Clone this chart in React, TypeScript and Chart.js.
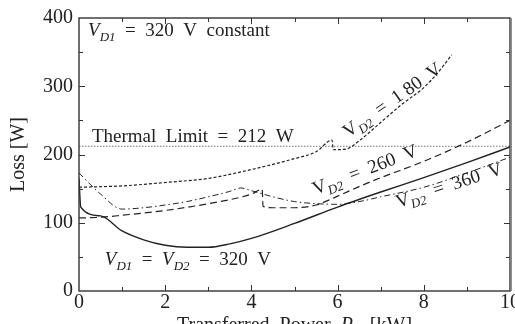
import { useEffect, useRef } from "react";
import { Chart, registerables } from "chart.js";

Chart.register(...registerables);

// ---- data (Transferred power [kW] vs Loss [W]) ----
const power320 = [0, 0.04, 0.5, 1.0, 1.5, 2.0, 2.5, 3.0, 3.5, 4.0, 5.0, 6.0, 7.0, 8.0, 9.0, 10];
const loss320 = [165, 123, 110, 88, 75, 67, 64, 64, 69, 77, 99, 123, 145, 166, 188, 211];

const power360 = [0, 0.5, 1.0, 1.5, 2.0, 2.5, 3.0, 3.5, 3.75, 4.0, 4.5, 5.0, 5.5, 6.0, 6.5, 7.0, 8.0, 9.0, 10];
const loss360 = [173, 142, 120, 122, 126, 131, 138, 146, 151, 147, 138, 131, 128, 127, 131, 138, 152, 173, 196];

const power260 = [0, 0.5, 1.0, 2.0, 3.0, 4.0, 4.25, 4.27, 4.5, 5.0, 5.5, 6.0, 6.5, 7.0, 8.0, 9.0, 10];
const loss260 = [107, 108, 111, 118, 128, 142, 149, 124, 122, 122, 126, 139, 153, 166, 190, 218, 250];

const power180 = [0, 1.0, 2.0, 3.0, 4.0, 5.0, 5.5, 5.87, 5.9, 6.2, 6.5, 7.0, 7.5, 8.0, 8.3, 8.65];
const loss180 = [152, 154, 159, 165, 178, 194, 204, 221, 207, 208, 220, 247, 274, 298, 318, 346];

const thermalLimit = 212;
const xRange = [0, 10];
const yRange = [0, 400];

const FONT = "'Liberation Serif', 'DejaVu Serif', serif";
const INK = "#222";

type Part = { t: string; it?: boolean; sub?: boolean };

function partFont(p: Part, size: number) {
  const s = p.sub ? Math.round(size * 0.7) : size;
  return `${p.it ? "italic " : ""}${s}px ${FONT}`;
}

function richWidth(ctx: CanvasRenderingContext2D, parts: Part[], size: number) {
  ctx.save();
  let w = 0;
  for (const p of parts) {
    ctx.font = partFont(p, size);
    w += ctx.measureText(p.t).width;
  }
  ctx.restore();
  return w;
}

function drawRich(ctx: CanvasRenderingContext2D, parts: Part[], x: number, y: number, angle: number, size: number) {
  ctx.save();
  ctx.translate(x, y);
  ctx.rotate((angle * Math.PI) / 180);
  ctx.fillStyle = INK;
  ctx.textBaseline = "alphabetic";
  let cx = 0;
  for (const p of parts) {
    ctx.font = partFont(p, size);
    ctx.fillText(p.t, cx, p.sub ? size * 0.25 : 0);
    cx += ctx.measureText(p.t).width;
  }
  ctx.restore();
}

const zip = (xs: number[], ys: number[]) => xs.map((x, i) => ({ x, y: ys[i] }));

const framePlugin = {
  id: "frame",
  afterDatasetsDraw(chart: any) {
    const { ctx, chartArea: a, scales } = chart;
    const xs = scales.x, ys = scales.y;
    ctx.save();
    ctx.strokeStyle = "#333";
    ctx.lineWidth = 1.4;
    ctx.strokeRect(a.left, a.top, a.right - a.left, a.bottom - a.top);
    ctx.strokeStyle = "#888";
    ctx.lineWidth = 1.5;
    ctx.beginPath();
    ctx.moveTo(a.right + 1.2, a.top);
    ctx.lineTo(a.right + 1.2, a.bottom);
    ctx.stroke();
    ctx.strokeStyle = "#333";
    ctx.lineWidth = 1;
    for (let v = xRange[0] + 1; v < xRange[1]; v++) {
      const px = Math.round(xs.getPixelForValue(v)) + 0.5;
      const L = v % 2 === 0 ? 6 : 4;
      ctx.beginPath();
      ctx.moveTo(px, a.bottom); ctx.lineTo(px, a.bottom - L);
      ctx.moveTo(px, a.top); ctx.lineTo(px, a.top + L);
      ctx.stroke();
    }
    for (let v = yRange[0] + 50; v < yRange[1]; v += 50) {
      const py = Math.round(ys.getPixelForValue(v)) + 0.5;
      const L = v % 100 === 0 ? 6 : 4;
      ctx.beginPath();
      ctx.moveTo(a.left, py); ctx.lineTo(a.left + L, py);
      ctx.moveTo(a.right, py); ctx.lineTo(a.right - L, py);
      ctx.stroke();
    }
    ctx.restore();
  },
  afterDraw(chart: any) {
    const { ctx, chartArea: a, scales } = chart;
    const X = (v: number) => scales.x.getPixelForValue(v);
    const Y = (v: number) => scales.y.getPixelForValue(v);
    const S = 19;
    drawRich(ctx, [{ t: "V", it: true }, { t: "D1", it: true, sub: true }, { t: "  =  320  V  constant" }], X(0.21), Y(373.5), 0, S);
    drawRich(ctx, [{ t: "Thermal  Limit  =  212  W" }], X(0.3), Y(219), 0, S);
    drawRich(ctx, [{ t: "V", it: true }, { t: "D1", it: true, sub: true }, { t: "  =  " }, { t: "V", it: true }, { t: "D2", it: true, sub: true }, { t: "  =  320  V" }], X(0.6), Y(38), 0, S);
    drawRich(ctx, [{ t: "V" }, { t: "D2", it: true, sub: true }, { t: "  =  1 80  V" }], X(6.24), Y(224), -35, S);
    drawRich(ctx, [{ t: "V" }, { t: "D2", it: true, sub: true }, { t: "  =  260  V" }], X(5.48), Y(140.5), -21, S);
    drawRich(ctx, [{ t: "V" }, { t: "D2", it: true, sub: true }, { t: "  =  360  V" }], X(7.4), Y(121.5), -18, S);
    // axis titles
    ctx.save();
    ctx.translate(19, (a.top + a.bottom) / 2);
    ctx.rotate(-Math.PI / 2);
    ctx.font = `20px ${FONT}`;
    ctx.fillStyle = INK;
    ctx.textAlign = "center";
    ctx.textBaseline = "middle";
    ctx.fillText("Loss [W]", 0, 0);
    ctx.restore();
    const parts: Part[] = [{ t: "Transferred  Power  " }, { t: "P", it: true }, { t: "o", it: true, sub: true }, { t: "  [kW]" }];
    const w = richWidth(ctx, parts, 20);
    drawRich(ctx, parts, (a.left + a.right) / 2 - w / 2, 331, 0, 20);
  },
};

export default function App() {
  const ref = useRef<HTMLCanvasElement>(null);
  useEffect(() => {
    if (!ref.current) return;
    const chart = new Chart(ref.current, {
      type: "line",
      data: {
        datasets: [
          { label: "320", data: zip(power320, loss320), borderColor: INK, borderWidth: 1.4 },
          { label: "360", data: zip(power360, loss360), borderColor: INK, borderWidth: 1, borderDash: [6, 3, 1.5, 3] },
          { label: "260", data: zip(power260, loss260), borderColor: INK, borderWidth: 1.2, borderDash: [7, 4] },
          { label: "180", data: zip(power180, loss180), borderColor: INK, borderWidth: 1.2, borderDash: [3, 2] },
          { label: "limit", data: zip(xRange, [thermalLimit, thermalLimit]), borderColor: "#555", borderWidth: 0.8, borderDash: [1.5, 1.5] },
        ],
      },
      options: {
        animation: false,
        responsive: false,
        devicePixelRatio: 1,
        layout: { padding: { top: 18, right: 5, left: 0, bottom: 0 } },
        elements: { point: { radius: 0 }, line: { cubicInterpolationMode: "monotone", fill: false } },
        plugins: { legend: { display: false }, tooltip: { enabled: false } },
        scales: {
          x: {
            type: "linear",
            min: xRange[0],
            max: xRange[1],
            grid: { display: false, drawTicks: false },
            border: { display: false },
            ticks: { stepSize: 2, color: INK, font: { family: FONT, size: 20 }, padding: 0, maxRotation: 0 },
            afterFit: (s: any) => { s.height = 54; s.paddingLeft = 0; s.paddingRight = 0; },
          },
          y: {
            type: "linear",
            min: yRange[0],
            max: yRange[1],
            grid: { display: false, drawTicks: false },
            border: { display: false },
            ticks: { stepSize: 100, color: INK, font: { family: FONT, size: 20 }, padding: 6 },
            afterFit: (s: any) => { s.width = 79; s.paddingTop = 0; s.paddingBottom = 0; },
          },
        },
      },
      plugins: [framePlugin],
    } as any);
    return () => chart.destroy();
  }, []);
  return (
    <div style={{ position: "fixed", left: 0, top: 0, width: 515, height: 345, background: "#fff" }}>
      <canvas ref={ref} width={515} height={345} style={{ display: "block" }} />
    </div>
  );
}
